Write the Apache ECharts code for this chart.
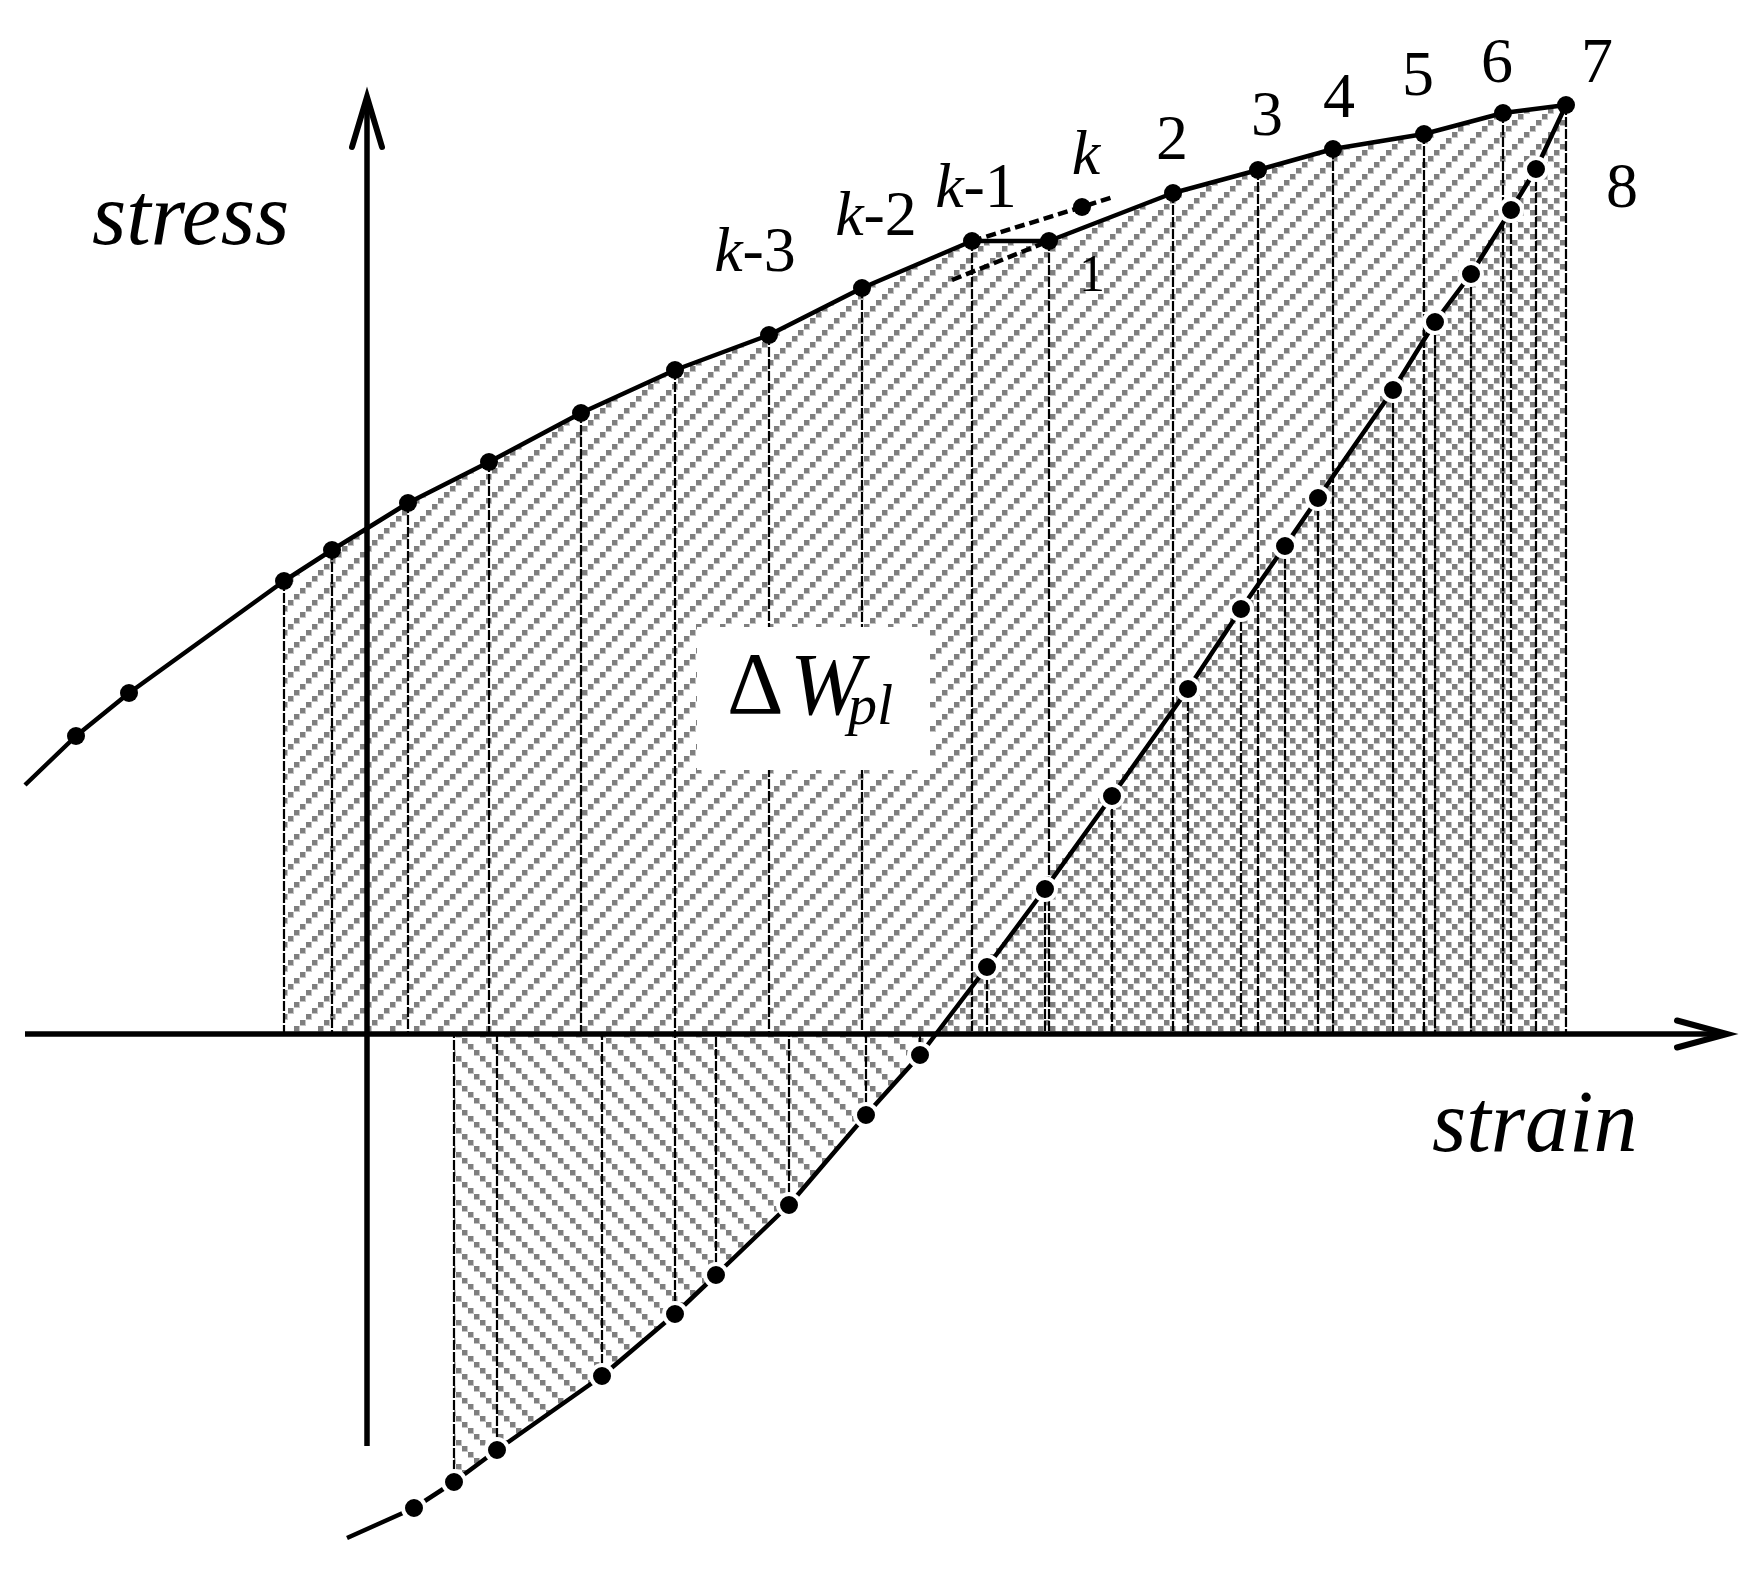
<!DOCTYPE html>
<html><head><meta charset="utf-8">
<script src="https://cdn.jsdelivr.net/npm/echarts@6/dist/echarts.min.js"></script>
<style>html,body{margin:0;padding:0;background:#fff}#c{width:1754px;height:1574px}</style>
</head><body><div id="c"></div>
<script>
// ---- data (arbitrary units, origin at the axes crossing) ----
// loading branch (upper curve)
const loadStrain = [-342,-291,-238,-83,-35,41,122,214,308,402,495,605,682,806,891,966,1057,1136,1199];
const loadStress = [249,298,341,453,484,531,572,621,664,699,746,793,793,841,864,885,900,921,929];
// unloading branch, from point 7 downwards
const unloadStrain = [1199,1169,1144,1104,1068,1026,951,918,874,821,745,678,620,553,499,422,349,308,235,130,87,47,-20];
const unloadStress = [929,865,824,760,712,644,536,488,425,345,238,145,67,-21,-81,-171,-241,-280,-342,-416,-448,-474,-504];
// extrapolated point k and the two dashed tangents
const kStrain = [715];
const kStress = [827];
const tangentUpStrain = [605,715,746];
const tangentUpStress = [793,827,837];
const tangentLowStrain = [585,682];
const tangentLowStress = [754,793];
// axis extents
const strainExtent = [-342,1371];
const stressExtent = [-412,948];
// texts
const pointLabels = ['k-3','k-2','k-1','k','1','2','3','4','5','6','7','8'];
const axisNames = ['stress','strain'];
const areaName = ['Δ','W','pl'];

// ---- helpers ----
const pairs = (xs, ys) => xs.map((x, i) => [x, ys[i]]);
const loadPts = pairs(loadStrain, loadStress);
const unloadPts = pairs(unloadStrain, unloadStress);

// hatch tiles: 24px period, 4 cells of 6px, 5px gray squares
function pattern(dir) {
  const c = document.createElement('canvas');
  c.width = c.height = 24;
  const g = c.getContext('2d');
  for (let i = 0; i < 4; i++) {
    const j = dir === '/' ? (4 - i) % 4 : i;
    g.fillStyle = '#c4c4c4';
    g.fillRect(i * 6, j * 6, 6, 6);
    g.fillStyle = '#7f7f7f';
    g.fillRect(i * 6, j * 6, 5, 5);
  }
  return c;
}
const patSlash = { image: pattern('/'), repeat: 'repeat' };
const patBack = { image: pattern('\\'), repeat: 'repeat' };

const SERIF = 'Liberation Serif';

function renderVertical(params, api) {
  const top = api.coord([api.value(0), api.value(1)]);
  const base = api.coord([api.value(0), 0]);
  return { type: 'line', shape: { x1: top[0], y1: top[1], x2: base[0], y2: base[1] },
    style: { stroke: '#000', lineWidth: 2.2, lineDash: [10, 2] } };
}
function renderAxes(params, api) {
  const xl = api.coord([strainExtent[0], 0]), xr = api.coord([strainExtent[1], 0]);
  const yb = api.coord([0, stressExtent[0]]), yt = api.coord([0, stressExtent[1]]);
  const m = 11;
  const st = { stroke: '#000', lineWidth: 6, fill: null, lineCap: 'round', lineJoin: 'miter' };
  return { type: 'group', children: [
    { type: 'line', shape: { x1: xl[0], y1: xl[1], x2: xr[0] - m, y2: xr[1] }, style: { stroke: '#000', lineWidth: 5.5 } },
    { type: 'polyline', shape: { points: [[xr[0] - 61, xr[1] - 13.5], [xr[0] - m, xr[1]], [xr[0] - 61, xr[1] + 13.5]] }, style: st },
    { type: 'line', shape: { x1: yb[0], y1: yb[1], x2: yt[0], y2: yt[1] + m }, style: { stroke: '#000', lineWidth: 5.5 } },
    { type: 'polyline', shape: { points: [[yt[0] - 15, yt[1] + 61], [yt[0], yt[1] + m], [yt[0] + 15, yt[1] + 61]] }, style: st }
  ] };
}

const verticalPts = loadPts.slice(3).concat(unloadPts.slice(1, 21));
const loadData = loadPts.map((p, i) => i === 0 ? { value: p, symbol: 'none' } : p);
const unloadData = unloadPts.map((p, i) => (i === 0 || i === unloadPts.length - 1) ? { value: p, symbol: 'none' } : p);

const series = [
  { type: 'line', z: 1, data: loadPts.slice(3), symbol: 'none', lineStyle: { width: 0 }, areaStyle: { color: patSlash, opacity: 1 } },
  { type: 'line', z: 1, data: unloadPts.slice(0, 14), symbol: 'none', lineStyle: { width: 0 }, areaStyle: { color: patBack, opacity: 1 } },
  { type: 'line', z: 1, data: unloadPts.slice(12, 21), symbol: 'none', lineStyle: { width: 0 }, areaStyle: { color: patBack, opacity: 1 } },
  { type: 'custom', z: 2, data: verticalPts, renderItem: renderVertical, clip: false },
  { type: 'line', z: 5, data: pairs(tangentUpStrain, tangentUpStress), symbol: 'none', lineStyle: { color: '#000', width: 4.5, type: [10, 5] } },
  { type: 'line', z: 5, data: pairs(tangentLowStrain, tangentLowStress), symbol: 'none', lineStyle: { color: '#000', width: 4.5, type: [10, 5] } },
  { type: 'line', z: 6, data: loadData, symbol: 'circle', symbolSize: 18, showSymbol: true,
    itemStyle: { color: '#000', opacity: 1 }, lineStyle: { color: '#000', width: 4.5 } },
  { type: 'line', z: 7, data: unloadData, symbol: 'circle', symbolSize: 22, showSymbol: true,
    itemStyle: { color: '#000', borderColor: '#fff', borderWidth: 4, opacity: 1 }, lineStyle: { color: '#000', width: 4.5 } },
  { type: 'scatter', z: 7, data: pairs(kStrain, kStress), symbol: 'circle', symbolSize: 18, itemStyle: { color: '#000', opacity: 1 } },
  { type: 'custom', z: 8, data: [[0, 0]], renderItem: renderAxes, clip: false }
];

const chart = echarts.init(document.getElementById('c'), null, { renderer: 'canvas' });
chart.setOption({
  animation: false,
  backgroundColor: '#fff',
  textStyle: { fontFamily: SERIF },
  grid: { left: 7, right: 7, top: 74, bottom: 20 },
  xAxis: { type: 'value', min: -360, max: 1380, show: false },
  yAxis: { type: 'value', min: -520, max: 960, show: false },
  graphic: [{ type: 'rect', z: 3, shape: { x: 697, y: 627, width: 233, height: 143 }, style: { fill: '#fff' } }],
  series: series
});

// text annotations, placed in pixels: [text, x, y, size, align, kind]
const textLayout = [
  [pointLabels[0], 755, 254, 64, 'center', 'k'], [pointLabels[1], 876, 218, 64, 'center', 'k'],
  [pointLabels[2], 976, 190, 64, 'center', 'k'], [pointLabels[3], 1086, 157, 64, 'center', 'k'],
  [pointLabels[4], 1092, 277, 52, 'center', 'n'], [pointLabels[5], 1172, 142, 64, 'center', 'n'],
  [pointLabels[6], 1267, 118, 64, 'center', 'n'], [pointLabels[7], 1339, 100, 64, 'center', 'n'],
  [pointLabels[8], 1418, 78, 64, 'center', 'n'], [pointLabels[9], 1497, 65, 64, 'center', 'n'],
  [pointLabels[10], 1597, 65, 64, 'center', 'n'], [pointLabels[11], 1622, 190, 64, 'center', 'n'],
  [axisNames[0], 92, 221, 88, 'left', 'i'], [axisNames[1], 1432, 1128, 88, 'left', 'i'],
  [areaName[0], 727, 690, 88, 'left', 'n'], [areaName[1], 790, 691, 88, 'left', 'i'],
  [areaName[2], 848, 709, 58, 'left', 'i']
];
const textData = textLayout.map(([t, x, y, s, al, kind]) => {
  const fmt = kind === 'k' ? '{i|k}{n|' + t.slice(1) + '}' : (kind === 'i' ? '{i|' + t + '}' : '{n|' + t + '}');
  return {
    value: chart.convertFromPixel({ gridIndex: 0 }, [x, y]),
    label: {
      show: true, position: [0, 0], align: al, verticalAlign: 'middle', formatter: fmt, opacity: 1,
      rich: {
        i: { fontFamily: SERIF, fontSize: s, fontStyle: 'italic', color: '#000' },
        n: { fontFamily: SERIF, fontSize: s, fontStyle: 'normal', color: '#000' }
      }
    }
  };
});
chart.setOption({ series: series.concat([{
  type: 'scatter', z: 10, clip: false, silent: true, symbol: 'circle', symbolSize: 0,
  itemStyle: { color: 'rgba(0,0,0,0)', opacity: 1 }, data: textData
}]) });
</script></body></html>
